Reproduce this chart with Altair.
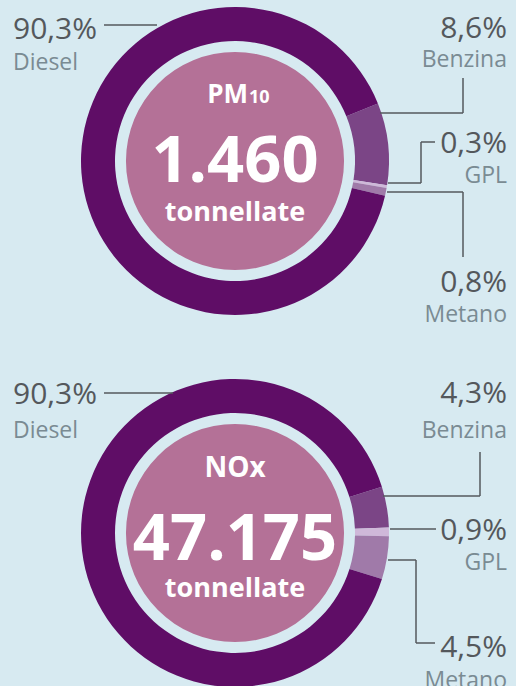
import math
import altair as alt
import pandas as pd

# ---- data ----
fuels = ["Benzina", "GPL", "Metano", "Diesel"]
pm10_pct = [8.6, 0.3, 0.8, 90.3]
nox_pct = [4.3, 0.9, 4.5, 90.3]
pollutants = ["PM10", "NOx"]
totals = ["1.460", "47.175"]
unit = "tonnellate"

# ---- layout (pixels) ----
W, H = 516, 686
centers = {"PM10": (235, 161), "NOx": (235, 533)}
start_deg = {"PM10": 68.1, "NOx": 72.5}
R_OUT, R_IN, R_DISC = 154, 120, 109
BG = "#d7eaf1"
fuel_colors = ["#7b4586", "#cfb8d9", "#a07aa9", "#5f0d66"]

# label anchors: (x, number baseline, name baseline, align)
label_pos = {
    "PM10": {"Diesel": (13, 39, 70, "left"), "Benzina": (507, 38, 67, "right"),
             "GPL": (507, 153, 183, "right"), "Metano": (507, 292, 322, "right")},
    "NOx": {"Diesel": (13, 404, 438, "left"), "Benzina": (507, 403, 438, "right"),
            "GPL": (507, 540, 570, "right"), "Metano": (507, 657, 688, "right")},
}
leaders = [
    (104, 25, 157, 25),
    (380, 113, 463, 113), (463, 113, 463, 78),
    (388, 183, 421, 183), (421, 183, 421, 142), (421, 142, 435, 142),
    (387, 192, 463, 192), (463, 192, 463, 257),
    (104, 393, 173, 393),
    (383, 496, 480, 496), (480, 496, 480, 452),
    (390, 529, 436, 529),
    (388, 560, 416, 560), (416, 560, 416, 643), (416, 643, 435, 643),
]

values = {"PM10": pm10_pct, "NOx": nox_pct}

def fmt(v):
    return f"{v:.1f}".replace(".", ",") + "%"

xs = alt.Scale(domain=[0, W], nice=False, zero=False)
ys = alt.Scale(domain=[0, H], nice=False, zero=False, reverse=True)
FONT = "Open Sans"

layers = []
for p in pollutants:
    cx, cy = centers[p]
    df = pd.DataFrame({"fuel": fuels, "value": values[p], "ord": list(range(len(fuels)))})
    a0 = math.radians(start_deg[p])
    ring = alt.Chart(df).mark_arc(radius=R_OUT, radius2=R_IN).encode(
        x=alt.value(cx), y=alt.value(cy),
        theta=alt.Theta("value:Q", stack=True, scale=alt.Scale(domain=[0, 100], range=[a0, a0 + 2 * math.pi])),
        color=alt.Color("fuel:N", scale=alt.Scale(domain=fuels, range=fuel_colors), legend=None),
        order=alt.Order("ord:Q"),
    )
    disc = alt.Chart(pd.DataFrame({"k": [p]})).mark_arc(radius=R_DISC, color="#b47197").encode(
        x=alt.value(cx), y=alt.value(cy), theta=alt.value(0), theta2=alt.value(2 * math.pi)
    )
    layers += [disc, ring]

# side labels
rows = []
for p in pollutants:
    for f, v in zip(fuels, values[p]):
        x, yn, yl, al = label_pos[p][f]
        rows.append({"x": x, "yn": yn, "yl": yl, "align": al, "num": fmt(v), "name": f})
lab = pd.DataFrame(rows)
for al in ["left", "right"]:
    sub = lab[lab["align"] == al]
    layers.append(alt.Chart(sub).mark_text(align=al, baseline="alphabetic", font=FONT, fontSize=30,
                                           color="#54585c").encode(
        x=alt.X("x:Q", scale=xs, axis=None), y=alt.Y("yn:Q", scale=ys, axis=None), text="num:N"))
    layers.append(alt.Chart(sub).mark_text(align=al, baseline="alphabetic", font=FONT, fontSize=23,
                                           color="#7a8b93").encode(
        x=alt.X("x:Q", scale=xs, axis=None), y=alt.Y("yl:Q", scale=ys, axis=None), text="name:N"))

# leader lines
seg = pd.DataFrame(leaders, columns=["x", "y", "x2", "y2"])
layers.append(alt.Chart(seg).mark_rule(color="#55595d", strokeWidth=1.5).encode(
    x=alt.X("x:Q", scale=xs, axis=None), y=alt.Y("y:Q", scale=ys, axis=None), x2="x2:Q", y2="y2:Q"))

# center texts
center_rows = [
    {"x": 248, "y": 103, "t": "PM", "s": 26, "a": "right"},
    {"x": 249, "y": 103, "t": "10", "s": 18, "a": "left"},
    {"x": 235, "y": 182, "t": totals[0], "s": 65, "a": "center"},
    {"x": 235, "y": 221, "t": unit, "s": 27, "a": "center"},
    {"x": 235, "y": 477, "t": "NOx", "s": 28, "a": "center"},
    {"x": 235, "y": 560, "t": totals[1], "s": 65, "a": "center"},
    {"x": 235, "y": 597, "t": unit, "s": 27, "a": "center"},
]
cdf = pd.DataFrame(center_rows)
for al in ["left", "right", "center"]:
    for s in sorted(cdf["s"].unique()):
        sub = cdf[(cdf["a"] == al) & (cdf["s"] == s)]
        if len(sub) == 0:
            continue
        layers.append(alt.Chart(sub).mark_text(align=al, baseline="alphabetic", font=FONT,
                                               fontWeight="bold", fontSize=int(s), color="white").encode(
            x=alt.X("x:Q", scale=xs, axis=None), y=alt.Y("y:Q", scale=ys, axis=None), text="t:N"))

chart = alt.layer(*layers).resolve_scale(theta="independent").properties(
    width=W, height=H, background=BG, padding=0, autosize=alt.AutoSizeParams(type="none")
).configure_view(stroke=None)

chart.save("out.html", embed_options={"renderer": "svg", "actions": False})
